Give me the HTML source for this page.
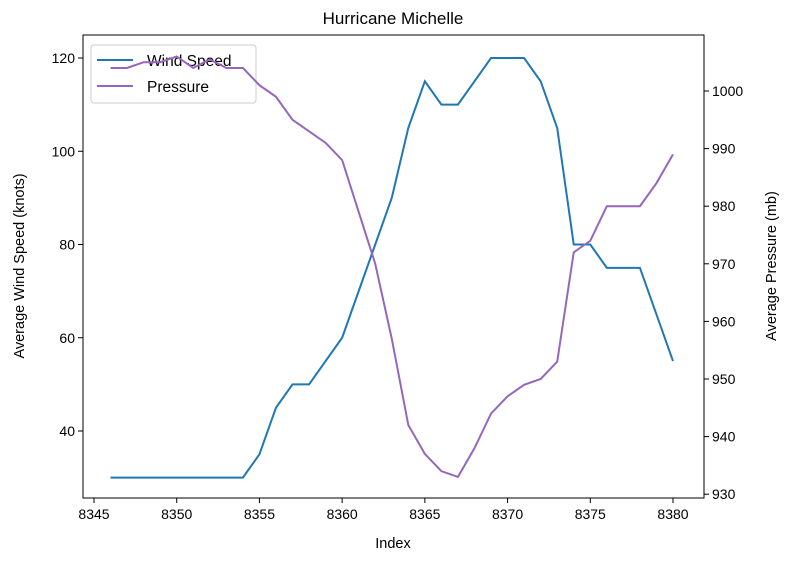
<!DOCTYPE html>
<html><head><meta charset="utf-8"><style>
html,body{margin:0;padding:0;background:#fff;}
svg{font-family:"Liberation Sans","DejaVu Sans",sans-serif;display:block;}
</style></head><body>
<svg id="chart" width="802" height="567" viewBox="0 0 802 567"></svg>
<script>
const indices = [8346,8347,8348,8349,8350,8351,8352,8353,8354,8355,8356,8357,8358,8359,8360,8361,8362,8363,8364,8365,8366,8367,8368,8369,8370,8371,8372,8373,8374,8375,8376,8377,8378,8379,8380];
const windSpeed = [30,30,30,30,30,30,30,30,30,35,45,50,50,55,60,70,80,90,105,115,110,110,115,120,120,120,115,105,80,80,75,75,75,65,55];
const pressure = [1004,1004,1005,1005,1006,1004,1005.5,1004,1004,1001,999,995,993,991,988,979,970,957,942,937,934,933,938,944,947,949,950,953,972,974,980,980,980,984,989];
const xTicks = [8345,8350,8355,8360,8365,8370,8375,8380];
const leftTicks = [40,60,80,100,120];
const rightTicks = [930,940,950,960,970,980,990,1000];

const NS='http://www.w3.org/2000/svg';
const svg=document.getElementById('chart');
const L=83,R=704,T=35,B=498;
const xs=v=>94+(v-8345)*(673-94)/35;
const yl=v=>58+(120-v)*(431-58)/80;
const yr=v=>91+(1000-v)*5.76;
function mk(tag,attrs,parent){const e=document.createElementNS(NS,tag);for(const k in attrs)e.setAttribute(k,attrs[k]);(parent||svg).appendChild(e);return e;}

const title=mk('text',{x:393,y:24,'text-anchor':'middle','font-size':17,fill:'#000'});
title.textContent='Hurricane Michelle';



const wp=mk('polyline',{points:indices.map((d,i)=>xs(d)+','+yl(windSpeed[i])).join(' '),fill:'none',stroke:'#1f77b4','stroke-width':2});



// legend (belongs to left axis, drawn under pressure line)
const lg=mk('g',{});


mk('rect',{x:91,y:45,width:165,height:58,rx:3,fill:'rgba(255,255,255,0.8)',stroke:'#ccc'},lg);
mk('line',{x1:97,y1:60,x2:133,y2:60,stroke:'#1f77b4','stroke-width':2},lg);
const l1=mk('text',{x:147,y:66,'font-size':15.5},lg);l1.textContent='Wind Speed';


mk('line',{x1:97,y1:86,x2:133,y2:86,stroke:'#9467bd','stroke-width':2},lg);
const l2=mk('text',{x:147,y:92,'font-size':15.5},lg);l2.textContent='Pressure';



const pp=mk('polyline',{points:indices.map((d,i)=>xs(d)+','+yr(pressure[i])).join(' '),fill:'none',stroke:'#9467bd','stroke-width':2});



const frame=mk('rect',{x:L,y:T,width:R-L,height:B-T,fill:'none',stroke:'#000','stroke-width':1});



xTicks.forEach(v=>{const x=xs(v);mk('line',{x1:x,y1:B,x2:x,y2:B+5,stroke:'#000'});
 const t=mk('text',{x:x,y:B+21,'text-anchor':'middle','font-size':14});t.textContent=v;
 
 });
leftTicks.forEach(v=>{const y=yl(v);mk('line',{x1:L-5,y1:y,x2:L,y2:y,stroke:'#000'});
 const t=mk('text',{x:L-8,y:y+5,'text-anchor':'end','font-size':14});t.textContent=v;
 
 });
rightTicks.forEach(v=>{const y=yr(v);mk('line',{x1:R,y1:y,x2:R+5,y2:y,stroke:'#000'});
 const t=mk('text',{x:R+8,y:y+5,'text-anchor':'start','font-size':14});t.textContent=v;
 
 });

const xt=mk('text',{x:393,y:548,'text-anchor':'middle','font-size':14.5});xt.textContent='Index';


const ylt=mk('text',{x:24,y:266,'text-anchor':'middle','font-size':14.5,transform:'rotate(-90 24 266)'});ylt.textContent='Average Wind Speed (knots)';


const yrt=mk('text',{x:776,y:266,'text-anchor':'middle','font-size':14.5,transform:'rotate(-90 776 266)'});yrt.textContent='Average Pressure (mb)';


</script>
</body></html>
